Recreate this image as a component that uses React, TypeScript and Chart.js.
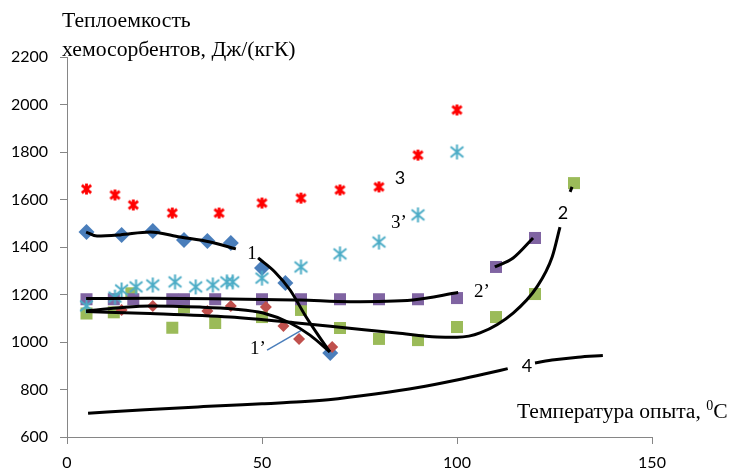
import React, { useEffect, useRef } from "react";
import { Chart, registerables } from "chart.js";

Chart.register(...registerables);

// Axes
const xMin = 0, xMax = 150, xStep = 50;
const yMin = 600, yMax = 2200, yStep = 200;

// Series 1 (blue diamonds)
const s1X = [5, 14, 22, 30, 36, 42, 50, 56, 67.5];
const s1Y = [1463, 1451, 1467, 1430, 1425, 1417, 1312, 1248, 954];

// Series 1' (red small diamonds)
const s1pX = [14, 22, 36, 42, 51, 55.5, 59.5, 68];
const s1pY = [1135, 1152, 1131, 1152, 1147, 1067, 1013, 979];

// Series 2' (purple squares)
const s2pX = [5, 12, 17, 27, 30, 38, 50, 60, 70, 80, 90, 100, 110, 120];
const s2pY = [1180, 1180, 1180, 1180, 1180, 1180, 1180, 1180, 1180, 1180, 1180, 1185, 1316, 1438];

// Series 2 (green squares)
const s2X = [5, 12, 16.5, 27, 30, 38, 50, 60, 70, 80, 90, 100, 110, 120, 130];
const s2Y = [1120, 1125, 1205, 1060, 1147, 1080, 1105, 1135, 1059, 1013, 1008, 1063, 1105, 1202, 1669];

// Series 3 (red asterisks)
const s3X = [5, 12.3, 17, 27, 39, 50, 60, 70, 80, 90, 100];
const s3Y = [1644, 1619, 1577, 1543, 1543, 1585, 1606, 1640, 1653, 1787, 1977];

// Series 3' (cyan asterisks)
const s3pX = [5, 12.3, 14, 17.7, 22, 27.7, 33, 37.4, 41, 42.5, 50, 60, 70, 80, 90, 100];
const s3pY = [1152, 1189, 1219, 1232, 1240, 1253, 1232, 1240, 1253, 1253, 1269, 1316, 1371, 1421, 1535, 1800];

// Trend curve 1
const c1aX = [4.9, 7.7, 13.6, 21.3, 29, 36.7, 43.3];
const c1aY = [1463, 1446, 1451, 1463, 1442, 1421, 1392];
const c1bX = [49, 53.3, 57.2, 61, 64.4, 67.4];
const c1bY = [1354, 1295, 1219, 1114, 1029, 958];

// Trend curve 1'
const c1pX = [4.9, 12.8, 21.3, 34.1, 42.6, 50.3, 57.2, 62.3, 67.4];
const c1pY = [1131, 1143, 1152, 1147, 1139, 1122, 1080, 1029, 958];

// Trend curve 2'
const c2paX = [4.9, 21.3, 41.8, 59.7, 72.6, 88.7, 100.3];
const c2paY = [1183, 1184, 1181, 1177, 1170, 1177, 1208];
const c2pbX = [109.7, 114.4, 119.5];
const c2pbY = [1316, 1354, 1438];

// Trend curve 2
const c2aX = [4.9, 21.3, 41.8, 59, 71.8, 84.6, 94.9, 100, 105.9, 114.4, 120.5, 124.4, 126.4];
const c2aY = [1128, 1120, 1105, 1080, 1059, 1038, 1021, 1020, 1038, 1122, 1232, 1358, 1484];
const c2bX = [129, 129.5];
const c2bY = [1632, 1653];

// Trend curve 4
const c4aX = [5.4, 20, 35, 50, 60, 67, 79, 90, 100, 107, 113];
const c4aY = [700, 715, 728, 740, 748, 757, 781, 808, 840, 865, 888];
const c4bX = [120, 125, 131, 137.4];
const c4bY = [912, 925, 936, 943];

// Leader line for label 1'
const leadX = [51.3, 60.3];
const leadY = [966, 1051];

const pts = (xs: number[], ys: number[]) => xs.map((x, i) => ({ x, y: ys[i] }));

function makeAsterisk(color: string, size: number, lw: number): HTMLCanvasElement {
  const c = document.createElement("canvas");
  const s = Math.ceil(size + lw * 2);
  c.width = s;
  c.height = s;
  const ctx = c.getContext("2d")!;
  const m = s / 2;
  const r = size / 2;
  ctx.strokeStyle = color;
  ctx.lineWidth = lw;
  ctx.lineCap = "butt";
  ctx.beginPath();
  ctx.moveTo(m, m - r);
  ctx.lineTo(m, m + r);
  ctx.moveTo(m - r * 0.85, m - r * 0.7);
  ctx.lineTo(m + r * 0.85, m + r * 0.7);
  ctx.moveTo(m - r * 0.85, m + r * 0.7);
  ctx.lineTo(m + r * 0.85, m - r * 0.7);
  ctx.stroke();
  return c;
}

const SERIF = '"Liberation Serif", "Times New Roman", serif';
const SANS = 'Lato, "Liberation Sans", sans-serif';

const textPlugin = {
  id: "customText",
  afterDraw(chart: any) {
    const ctx = chart.ctx as CanvasRenderingContext2D;
    ctx.save();
    ctx.fillStyle = "#000";
    // Y title
    ctx.font = `21.7px ${SERIF}`;
    ctx.textAlign = "left";
    ctx.textBaseline = "alphabetic";
    ctx.fillText("Теплоемкость", 62, 27);
    ctx.fillText("хемосорбентов, Дж/(кгК)", 62, 56);
    // X title
    const t1 = "Температура опыта, ";
    ctx.font = `21.6px ${SERIF}`;
    let x = 517;
    ctx.fillText(t1, x, 418);
    x += ctx.measureText(t1).width;
    ctx.font = `14px ${SERIF}`;
    ctx.fillText("0", x, 410);
    x += ctx.measureText("0").width;
    ctx.font = `21.6px ${SERIF}`;
    ctx.fillText("C", x, 418);

    // Curve labels
    ctx.textAlign = "center";
    ctx.textBaseline = "middle";
    ctx.font = `19px ${SERIF}`;
    ctx.fillText("1", 252, 254);
    ctx.fillText("1\u2019", 258, 349);
    ctx.fillText("3\u2019", 399, 223);
    ctx.fillText("2\u2019", 482, 292);
    ctx.font = `18px ${SANS}`;
    ctx.fillText("3", 400, 178);
    ctx.fillText("2", 563, 213);
    ctx.fillText("4", 527, 366);
    ctx.restore();
  },
};

export default function App() {
  const ref = useRef<HTMLCanvasElement | null>(null);
  useEffect(() => {
    if (!ref.current) return;
    const redStar = makeAsterisk("#FF0000", 11, 2.8);
    const cyanStar = makeAsterisk("#4BACC6", 15, 2);
    const lineDs = (xs: number[], ys: number[]) => ({
      data: pts(xs, ys),
      showLine: true,
      borderColor: "#000",
      borderWidth: 3,
      pointRadius: 0,
      tension: 0.4,
      cubicInterpolationMode: "monotone" as const,
      order: 0,
    });
    const chart = new Chart(ref.current, {
      type: "scatter",
      data: {
        datasets: [
          lineDs(c1aX, c1aY),
          lineDs(c1bX, c1bY),
          lineDs(c1pX, c1pY),
          lineDs(c2paX, c2paY),
          lineDs(c2pbX, c2pbY),
          lineDs(c2aX, c2aY),
          lineDs(c2bX, c2bY),
          lineDs(c4aX, c4aY),
          lineDs(c4bX, c4bY),
          {
            data: pts(leadX, leadY),
            showLine: true,
            borderColor: "#4A7EBB",
            borderWidth: 1.5,
            pointRadius: 0,
            order: 0,
          },
          {
            data: pts(s3X, s3Y),
            pointStyle: redStar,
            pointRadius: 6,
            order: 1,
          },
          {
            data: pts(s3pX, s3pY),
            pointStyle: cyanStar,
            pointRadius: 8,
            order: 1,
          },
          {
            data: pts(s2X, s2Y),
            pointStyle: "rect",
            pointRadius: 8.5,
            backgroundColor: "#9BBB59",
            borderColor: "#9BBB59",
            borderWidth: 0,
            order: 2,
          },
          {
            data: pts(s2pX, s2pY),
            pointStyle: "rect",
            pointRadius: 8.5,
            backgroundColor: "#8064A2",
            borderColor: "#8064A2",
            borderWidth: 0,
            order: 1.5,
          },
          {
            data: pts(s1pX, s1pY),
            pointStyle: "rectRot",
            pointRadius: 6,
            backgroundColor: "#C0504D",
            borderColor: "#C0504D",
            borderWidth: 0,
            order: 1,
          },
          {
            data: pts(s1X, s1Y),
            pointStyle: "rectRot",
            pointRadius: 8,
            backgroundColor: "#4A7EBB",
            borderColor: "#4A7EBB",
            borderWidth: 0,
            order: 1,
          },
        ],
      },
      options: {
        responsive: false,
        animation: false,
        layout: { padding: { top: 57, right: 79, left: 0, bottom: 0 } },
        plugins: {
          legend: { display: false },
          tooltip: { enabled: false },
          title: { display: false },
        },
        scales: {
          x: {
            type: "linear",
            min: xMin,
            max: xMax,
            afterFit: (s: any) => {
              s.height = 35;
            },
            ticks: {
              stepSize: xStep,
              color: "#000",
              padding: 9,
              font: { family: SANS, size: 16 },
              callback: (v: any) => String(v),
            },
            grid: {
              drawOnChartArea: false,
              drawTicks: true,
              tickLength: 7,
              color: "#868686",
            },
            border: { display: true, color: "#868686", width: 1 },
          },
          y: {
            type: "linear",
            min: yMin,
            max: yMax,
            afterFit: (s: any) => {
              s.width = 67;
            },
            ticks: {
              stepSize: yStep,
              color: "#000",
              padding: 12,
              font: { family: SANS, size: 16 },
              callback: (v: any) => String(v),
            },
            grid: {
              drawOnChartArea: false,
              drawTicks: true,
              tickLength: 7,
              color: "#868686",
            },
            border: { display: true, color: "#868686", width: 1 },
          },
        },
      },
      plugins: [textPlugin],
    });
    return () => chart.destroy();
  }, []);
  return (
    <div style={{ position: "absolute", left: 0, top: 0, width: 731, height: 472, background: "#fff" }}>
      <canvas ref={ref} width={731} height={472} style={{ display: "block" }} />
    </div>
  );
}
